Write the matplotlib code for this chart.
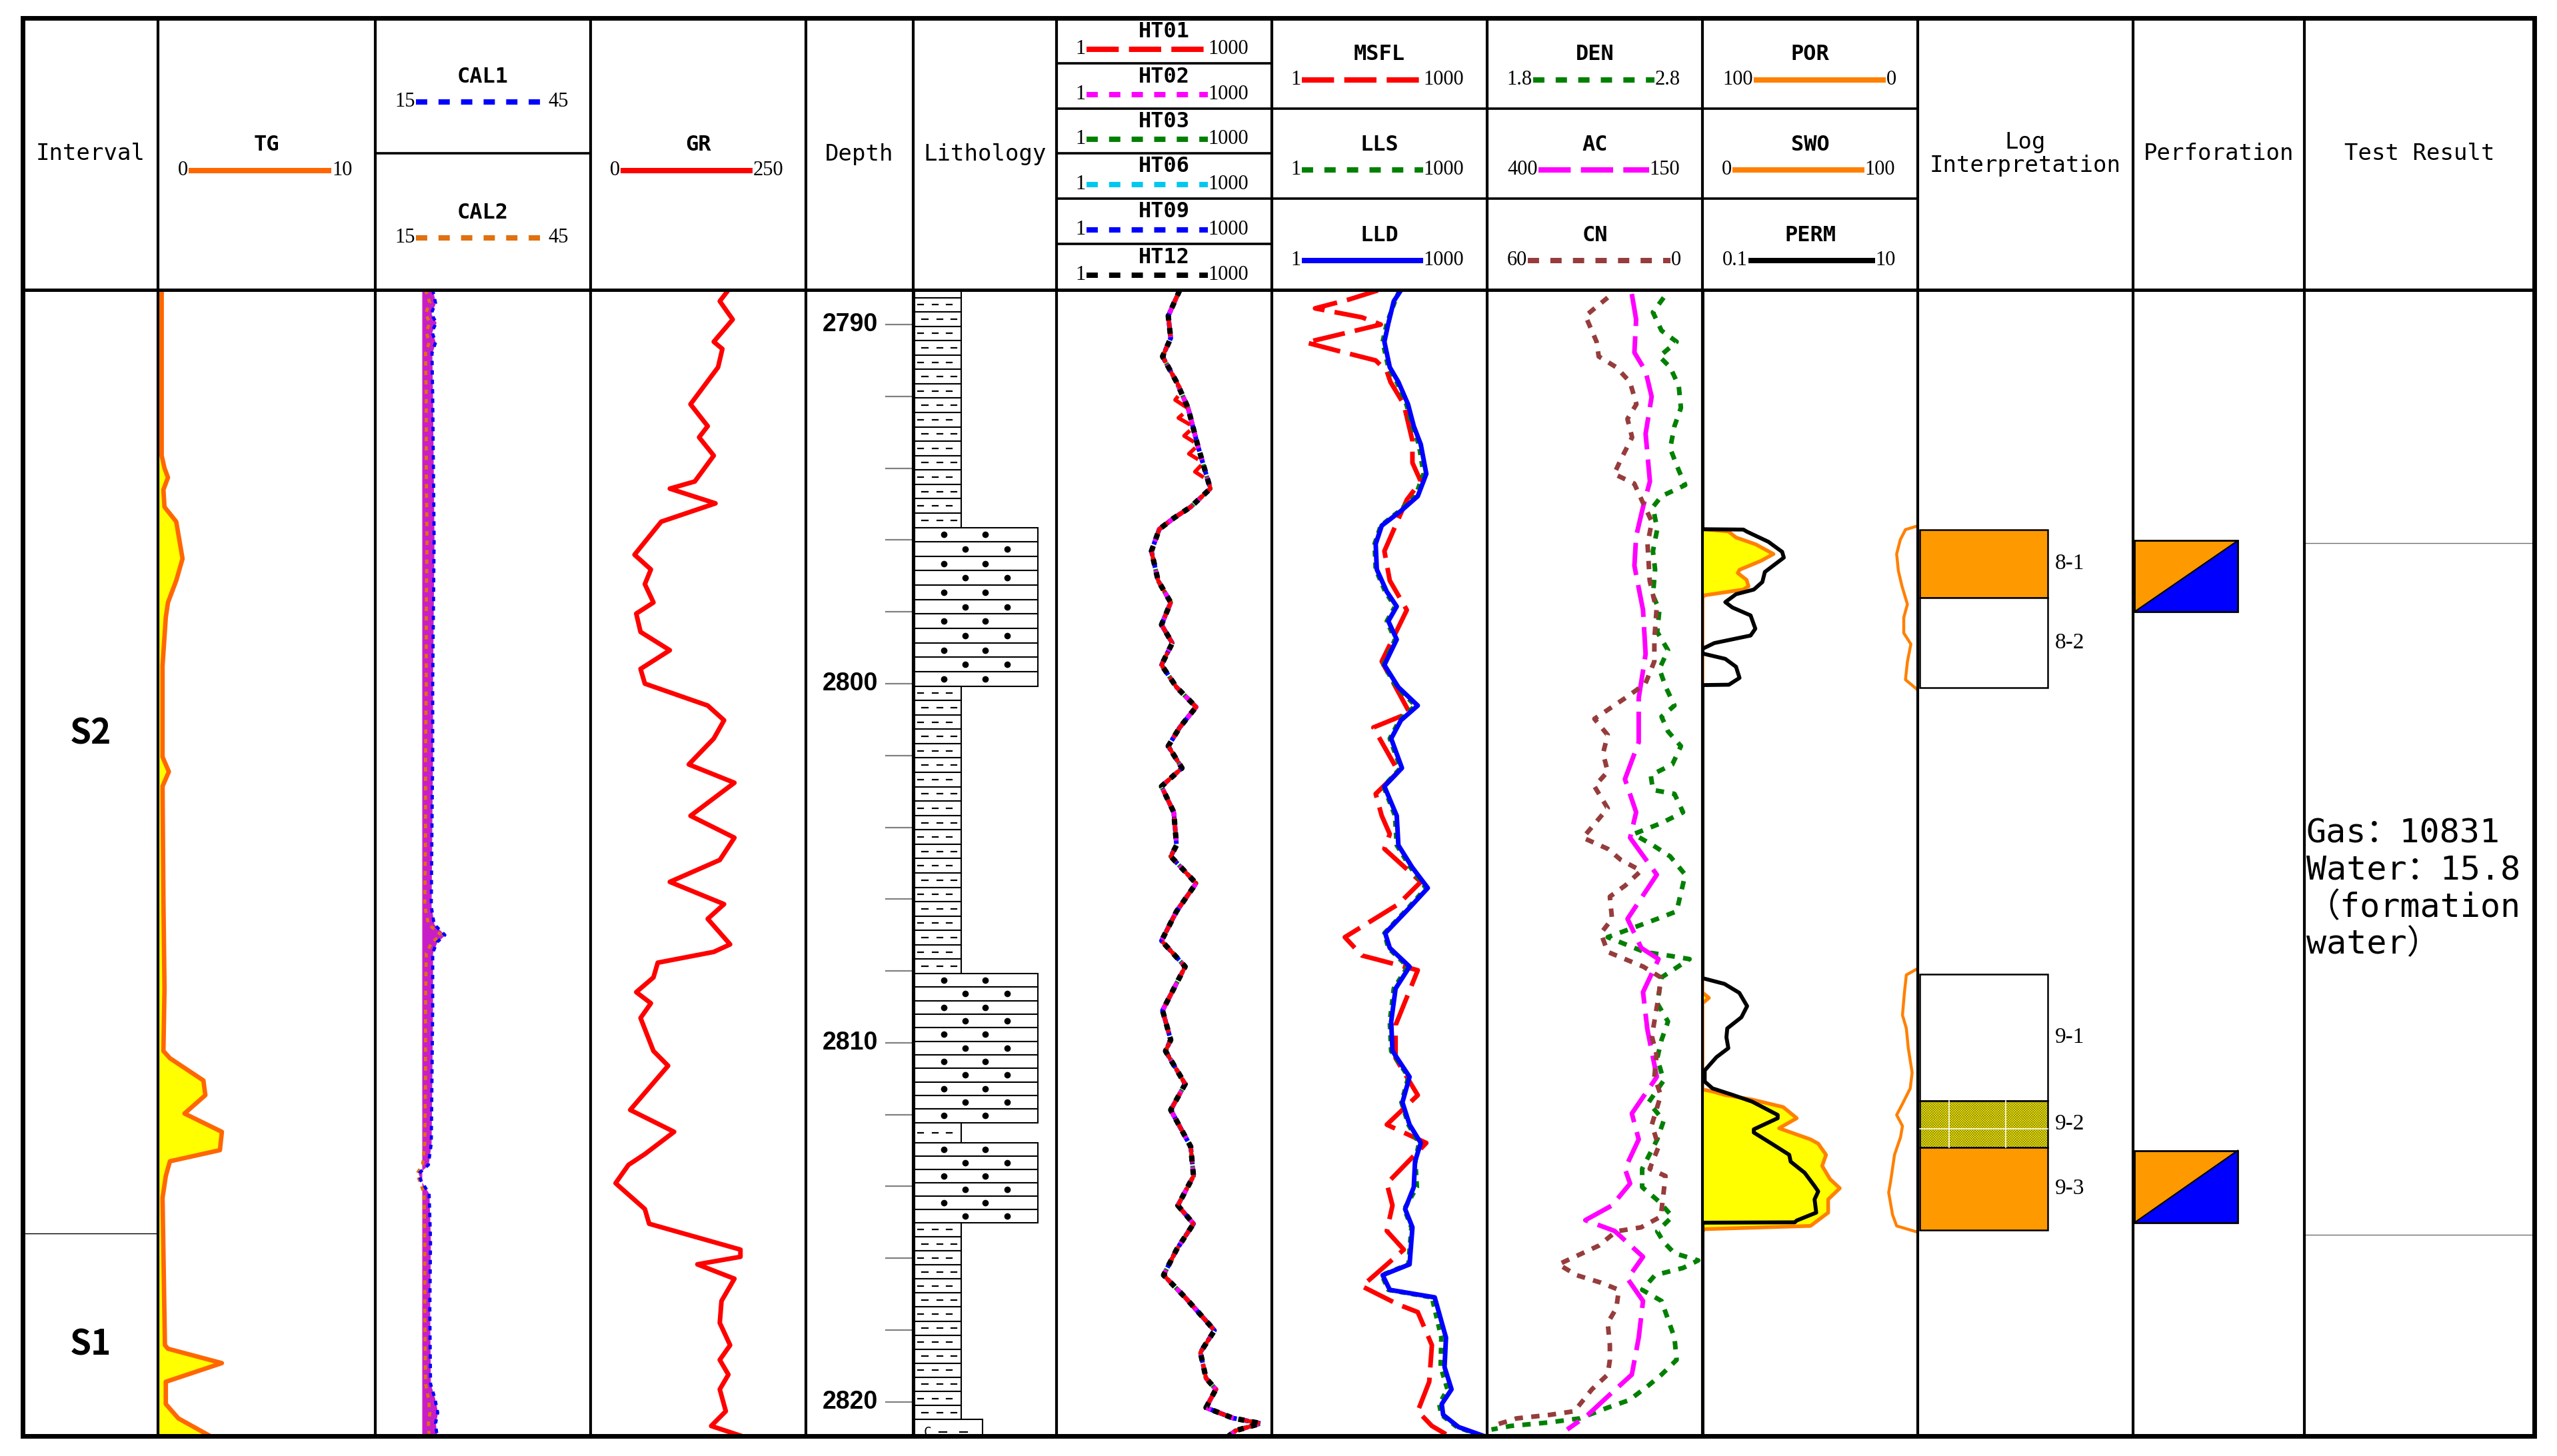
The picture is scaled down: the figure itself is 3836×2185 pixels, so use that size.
import matplotlib
matplotlib.use("Agg")
import matplotlib.pyplot as plt
from matplotlib.patches import Rectangle, Polygon

NAN = float("nan")

# ---------------- data ----------------
DEPTH_TICKS = list(range(2790, 2821, 2))

INTERVAL_NAMES = ["S2", "S1"]
INTERVAL_TOP = [2787.5, 2815.3]
INTERVAL_BOT = [2815.3, 2821.5]

# (depth, value) pairs for every curve
TG_PTS = [(2789.035, 0.17), (2793.65, 0.17), (2794.0, 0.3), (2794.26, 0.46), (2794.6, 0.25),
          (2795.08, 0.3), (2795.49, 0.84), (2796.52, 1.13), (2797.13, 0.84), (2797.74, 0.46),
          (2798.15, 0.36), (2799.5, 0.21), (2802.04, 0.21), (2802.45, 0.5), (2802.86, 0.21),
          (2806.0, 0.25), (2808.5, 0.3), (2810.23, 0.25), (2810.43, 0.55), (2811.05, 2.09),
          (2811.46, 2.18), (2811.97, 1.22), (2812.48, 2.94), (2812.99, 2.85), (2813.30, 0.55),
          (2813.71, 0.36), (2814.32, 0.21), (2818.42, 0.32), (2818.52, 0.46), (2818.92, 2.94),
          (2819.44, 0.36), (2820.06, 0.36), (2820.46, 0.94), (2820.95, 2.4)]

CAL1_PTS = [(2789.035, 23.0), (2789.4, 23.4), (2789.7, 22.8), (2789.95, 23.5), (2790.2, 22.9),
            (2790.5, 23.4), (2790.8, 22.9), (2792.0, 23.0), (2794.0, 23.1), (2796.0, 23.2),
            (2798.0, 23.1), (2800.0, 23.0), (2802.0, 23.0), (2804.0, 22.9), (2806.2, 22.8),
            (2806.7, 23.2), (2807.0, 24.7), (2807.2, 23.6), (2807.5, 23.0), (2809.0, 23.0),
            (2811.0, 22.9), (2812.8, 22.8), (2813.4, 22.4), (2813.65, 21.0), (2813.85, 21.4),
            (2814.2, 22.5), (2815.5, 22.7), (2817.5, 22.6), (2819.5, 22.7), (2819.9, 23.3),
            (2820.3, 23.7), (2820.6, 23.4), (2820.95, 23.6)]
CAL2_PTS = [(2789.035, 22.0), (2789.4, 22.6), (2789.7, 22.0), (2789.95, 22.6), (2790.2, 22.1),
            (2790.5, 22.5), (2790.8, 22.0), (2792.0, 22.1), (2794.0, 22.1), (2796.0, 22.2),
            (2798.0, 22.1), (2800.0, 22.1), (2802.0, 22.0), (2804.0, 22.0), (2806.2, 21.9),
            (2806.7, 22.4), (2807.0, 24.2), (2807.2, 22.9), (2807.5, 22.1), (2809.0, 22.0),
            (2811.0, 22.0), (2812.8, 21.9), (2813.4, 21.6), (2813.65, 20.8), (2813.85, 21.2),
            (2814.2, 21.8), (2815.5, 21.9), (2817.5, 21.9), (2819.5, 22.0), (2819.9, 22.4),
            (2820.3, 22.6), (2820.6, 22.4), (2820.95, 22.5)]
BIT_SIZE = 21.5

GR_PTS = [(2789.04, 160), (2789.35, 150), (2789.86, 165), (2790.48, 143), (2790.68, 153),
          (2791.19, 148), (2792.22, 116), (2792.83, 136), (2793.14, 126), (2793.65, 143),
          (2794.37, 121), (2794.57, 92), (2794.98, 145), (2795.49, 82), (2796.41, 51),
          (2796.82, 70), (2797.23, 63), (2797.74, 73), (2798.05, 53), (2798.56, 58),
          (2799.07, 92), (2799.59, 58), (2800.0, 63), (2800.61, 136), (2801.02, 155),
          (2801.53, 143), (2802.25, 114), (2802.76, 167), (2803.68, 116), (2804.29, 167),
          (2804.91, 150), (2805.52, 92), (2806.14, 155), (2806.55, 136), (2807.26, 162),
          (2807.47, 143), (2807.77, 78), (2808.18, 73), (2808.59, 53), (2808.9, 70),
          (2809.31, 58), (2810.23, 73), (2810.64, 90), (2811.87, 46), (2812.48, 97),
          (2813.1, 63), (2813.4, 44), (2813.91, 29), (2814.63, 63), (2815.04, 68),
          (2815.76, 174), (2815.96, 174), (2816.17, 124), (2816.57, 167), (2817.19, 152),
          (2817.8, 150), (2818.42, 162), (2818.83, 150), (2819.24, 160), (2819.65, 150),
          (2820.26, 157), (2820.67, 140), (2820.98, 179)]

LITH_TOP = [2788.85, 2795.65, 2800.07, 2808.07, 2812.22, 2812.78, 2815.01, 2820.49]
LITH_BOT = [2795.65, 2800.07, 2808.07, 2812.22, 2812.78, 2815.01, 2820.49, 2821.2]
LITH_TYPE = ["shale", "sand", "shale", "sand", "shale", "sand", "shale", "coal"]
LITH_ROWS = [17, 11, 20, 11, 1, 6, 14, 1]

# HT02, HT03, HT06, HT09 and HT12 lie on top of each other in the plot
HT_PTS = [(2789.045, 52), (2789.76, 36), (2790.38, 39), (2790.89, 30), (2791.60, 47),
          (2792.32, 68), (2793.34, 92), (2794.57, 139), (2795.08, 74), (2795.39, 43),
          (2795.70, 27), (2796.31, 21), (2797.13, 26), (2797.74, 39), (2798.36, 29),
          (2798.87, 41), (2799.48, 29), (2800.10, 47), (2800.65, 88), (2801.22, 52),
          (2801.74, 36), (2802.35, 56), (2802.86, 29), (2803.58, 43), (2804.50, 47),
          (2804.81, 39), (2805.56, 88), (2806.34, 47), (2807.16, 29), (2807.88, 62),
          (2809.10, 30), (2809.92, 39), (2810.23, 33), (2811.15, 62), (2811.87, 39),
          (2812.89, 74), (2813.71, 81), (2814.53, 49), (2815.04, 81), (2815.76, 47),
          (2816.47, 31), (2817.09, 62), (2818.01, 159), (2818.62, 101), (2819.34, 121),
          (2819.65, 166), (2820.16, 121), (2820.45, 286), (2820.6, 700), (2820.8, 313),
          (2820.95, 250)]
HT01_PTS = [(2789.045, 52), (2789.76, 36), (2790.38, 39), (2790.89, 30), (2791.60, 47),
            (2791.85, 56), (2792.1, 45), (2792.35, 70), (2792.6, 50), (2792.85, 82),
            (2793.1, 60), (2793.35, 95), (2793.6, 70), (2793.85, 112), (2794.1, 85),
            (2794.35, 132), (2794.57, 139), (2795.08, 74), (2795.39, 43), (2795.70, 27),
            (2796.31, 21), (2797.13, 26), (2797.74, 39), (2798.36, 29), (2798.87, 41),
            (2799.48, 29), (2800.10, 47), (2800.65, 88), (2801.22, 52), (2801.74, 36),
            (2802.35, 56), (2802.86, 29), (2803.58, 43), (2804.50, 47), (2804.81, 39),
            (2805.56, 88), (2806.34, 47), (2807.16, 29), (2807.88, 62), (2809.10, 30),
            (2809.92, 39), (2810.23, 33), (2811.15, 62), (2811.87, 39), (2812.89, 74),
            (2813.71, 81), (2814.53, 49), (2815.04, 81), (2815.76, 47), (2816.47, 31),
            (2817.09, 62), (2818.01, 159), (2818.62, 101), (2819.34, 121), (2819.65, 166),
            (2820.16, 121), (2820.45, 286), (2820.6, 700), (2820.8, 313), (2820.95, 250)]

MSFL_PTS = [(2789.05, 30), (2789.3, 12), (2789.55, 4), (2789.8, 18), (2790.0, 33),
            (2790.25, 10), (2790.5, 3), (2790.75, 9), (2791.0, 28), (2791.3, 40),
            (2791.6, 45), (2792.22, 69), (2793.24, 91), (2793.85, 91), (2794.37, 119),
            (2794.88, 76), (2796.31, 37), (2797.13, 44), (2797.95, 76), (2799.38, 34),
            (2800.81, 83), (2801.22, 26), (2801.63, 34), (2802.45, 58), (2803.07, 28),
            (2803.68, 34), (2804.19, 44), (2804.60, 37), (2805.52, 119), (2806.14, 58),
            (2807.06, 10.4), (2807.57, 18), (2807.67, 28), (2807.98, 108), (2809.51, 53),
            (2810.43, 53), (2811.46, 108), (2812.28, 40), (2812.79, 142), (2813.92, 40),
            (2814.53, 48), (2815.24, 40), (2815.76, 69), (2816.78, 18), (2817.29, 58),
            (2817.50, 108), (2818.42, 170), (2819.44, 156), (2820.26, 108), (2820.67, 170),
            (2820.9, 267)]
LLS_PTS = [(2789.045, 60), (2789.35, 52), (2789.97, 40), (2790.48, 35), (2791.19, 42),
           (2791.60, 55), (2792.22, 75), (2792.83, 90), (2793.34, 112), (2794.16, 130),
           (2794.78, 100), (2795.19, 60), (2795.60, 33), (2796.11, 27), (2796.82, 28),
           (2797.44, 38), (2797.85, 52), (2798.26, 40), (2798.77, 52), (2799.48, 36),
           (2800.10, 55), (2800.61, 100), (2801.02, 60), (2801.53, 44), (2802.35, 62),
           (2802.86, 36), (2803.68, 52), (2804.50, 55), (2805.11, 85), (2805.69, 140),
           (2806.24, 80), (2806.95, 37), (2807.36, 42), (2807.88, 78), (2808.49, 50),
           (2809.41, 44), (2810.23, 46), (2810.95, 80), (2811.66, 64), (2812.28, 80),
           (2812.79, 112), (2813.30, 100), (2814.02, 105), (2814.63, 70), (2815.14, 88),
           (2816.17, 80), (2816.47, 34), (2816.88, 42), (2817.09, 170), (2818.21, 230),
           (2819.03, 225), (2819.65, 280), (2820.06, 215), (2820.36, 230), (2820.7, 380),
           (2820.95, 850)]
LLD_PTS = [(2789.045, 63), (2789.35, 50), (2789.97, 42), (2790.48, 37), (2791.19, 44),
           (2791.60, 58), (2792.22, 79), (2792.83, 95), (2793.34, 119), (2794.16, 142),
           (2794.78, 108), (2795.19, 63), (2795.60, 34), (2796.11, 28), (2796.82, 29),
           (2797.44, 40), (2797.85, 55), (2798.26, 42), (2798.77, 55), (2799.48, 37),
           (2800.10, 58), (2800.61, 108), (2801.02, 63), (2801.53, 46), (2802.35, 65),
           (2802.86, 37), (2803.68, 55), (2804.50, 58), (2805.11, 90), (2805.69, 149),
           (2806.24, 83), (2806.95, 38), (2807.36, 44), (2807.88, 83), (2808.49, 53),
           (2809.41, 46), (2810.23, 48), (2810.95, 83), (2811.66, 66), (2812.28, 83),
           (2812.79, 119), (2813.30, 99), (2814.02, 95), (2814.63, 72), (2815.14, 91),
           (2816.17, 83), (2816.47, 35), (2816.88, 44), (2817.09, 186), (2818.21, 267),
           (2819.03, 255), (2819.65, 319), (2820.06, 233), (2820.36, 244), (2820.7, 400),
           (2820.95, 900)]

DEN_PTS = [(2789.25, 2.62), (2789.66, 2.57), (2790.17, 2.61), (2790.48, 2.68), (2790.89, 2.60),
           (2791.19, 2.65), (2791.71, 2.69), (2792.32, 2.70), (2792.83, 2.67), (2793.45, 2.65),
           (2794.06, 2.69), (2794.47, 2.72), (2794.78, 2.61), (2795.08, 2.57), (2795.70, 2.59),
           (2796.31, 2.57), (2796.82, 2.58), (2797.54, 2.57), (2797.95, 2.60), (2798.56, 2.59),
           (2799.07, 2.64), (2799.59, 2.60), (2800.10, 2.63), (2800.61, 2.67), (2800.92, 2.61),
           (2801.33, 2.64), (2801.74, 2.70), (2802.25, 2.66), (2802.55, 2.56), (2802.96, 2.57),
           (2803.07, 2.67), (2803.58, 2.71), (2803.88, 2.61), (2804.19, 2.48), (2804.50, 2.57),
           (2804.81, 2.65), (2805.32, 2.72), (2805.83, 2.70), (2806.34, 2.68), (2806.55, 2.59),
           (2807.06, 2.36), (2807.47, 2.53), (2807.57, 2.64), (2807.67, 2.74), (2808.18, 2.61),
           (2808.90, 2.59), (2809.41, 2.64), (2809.92, 2.61), (2810.43, 2.59), (2811.05, 2.62),
           (2811.66, 2.55), (2812.17, 2.62), (2812.69, 2.59), (2813.51, 2.52), (2814.02, 2.52),
           (2814.43, 2.60), (2814.84, 2.66), (2815.25, 2.59), (2815.55, 2.62), (2815.86, 2.67),
           (2816.06, 2.78), (2816.27, 2.71), (2816.47, 2.58), (2816.88, 2.52), (2817.19, 2.61),
           (2817.70, 2.64), (2818.21, 2.67), (2818.83, 2.68), (2819.24, 2.61), (2819.54, 2.55),
           (2819.95, 2.46), (2820.16, 2.36), (2820.46, 2.23), (2820.57, 2.09), (2820.67, 1.91),
           (2820.77, 1.82)]
AC_PTS = [(2789.15, 232), (2789.86, 227), (2790.78, 229), (2791.30, 216), (2792.01, 209),
          (2793.04, 216), (2794.37, 211), (2795.08, 219), (2795.90, 227), (2796.72, 229),
          (2797.95, 219), (2799.18, 216), (2800.40, 224), (2801.63, 224), (2802.66, 240),
          (2803.58, 227), (2804.29, 234), (2805.32, 203), (2806.55, 237), (2807.36, 221),
          (2807.67, 201), (2808.59, 219), (2809.62, 214), (2810.95, 203), (2811.97, 232),
          (2812.69, 224), (2813.51, 240), (2813.92, 234), (2814.53, 255), (2814.94, 286),
          (2815.24, 252), (2815.96, 219), (2816.57, 237), (2817.19, 219), (2818.21, 224),
          (2819.24, 232), (2819.85, 260), (2820.36, 283), (2820.77, 307)]
CN_PTS = [(2789.25, 26.4), (2789.76, 32.6), (2790.48, 29.5), (2790.89, 28.9), (2791.19, 24.0),
          (2791.60, 20.2), (2792.22, 18.4), (2792.63, 20.9), (2793.14, 19.6), (2793.75, 22.7),
          (2794.16, 24.6), (2794.43, 19.0), (2794.98, 16.5), (2795.49, 14.1), (2796.11, 15.3),
          (2797.13, 14.7), (2797.95, 12.8), (2798.77, 13.4), (2799.38, 13.4), (2800.00, 15.9),
          (2800.40, 21.5), (2800.98, 30.1), (2801.43, 26.4), (2801.94, 27.7), (2802.45, 26.4),
          (2802.86, 30.1), (2803.47, 26.4), (2804.29, 33.3), (2804.60, 26.4), (2804.91, 22.7),
          (2805.21, 17.1), (2805.62, 21.5), (2805.93, 25.8), (2806.55, 25.2), (2806.95, 28.3),
          (2807.47, 26.4), (2807.88, 16.5), (2808.18, 11.6), (2808.70, 12.2), (2809.41, 13.4),
          (2809.82, 14.1), (2810.33, 12.8), (2810.95, 13.4), (2811.46, 11.6), (2812.28, 14.1),
          (2812.89, 12.2), (2813.51, 14.7), (2813.71, 10.3), (2814.84, 11.6), (2815.14, 17.1),
          (2815.25, 24.0), (2815.65, 28.9), (2816.17, 40.1), (2816.47, 35.1), (2816.68, 28.3),
          (2816.88, 23.3), (2817.39, 24.0), (2817.80, 26.4), (2818.42, 25.8), (2818.83, 25.8),
          (2819.24, 26.4), (2819.65, 30.8), (2820.26, 35.7), (2820.36, 42.5), (2820.46, 51.8),
          (2820.67, 58.6)]

POR_PTS = [(2789.035, 100), (2795.70, 100), (2795.76, 88), (2795.93, 84.4), (2796.12, 75.3),
           (2796.39, 67.0), (2796.58, 72.8), (2796.83, 82.8), (2796.92, 83.6), (2797.11, 79.5),
           (2797.29, 78.6), (2797.38, 81.1), (2797.54, 99), (2797.6, 100), (2808.6, 100),
           (2808.75, 97), (2808.9, 100), (2811.30, 100), (2811.36, 95), (2811.45, 89.8),
           (2811.58, 77.1), (2811.79, 62.5), (2812.10, 56.2), (2812.38, 64.4), (2812.69, 49.8),
           (2812.81, 46.2), (2813.12, 42.6), (2813.43, 44.4), (2813.80, 40.7), (2814.05, 36.2),
           (2814.36, 41.6), (2814.73, 41.6), (2815.10, 49.8), (2815.19, 99), (2815.25, 100),
           (2820.95, 100)]
SWO_PTS = [(2795.62, 99.3), (2795.71, 94.3), (2795.99, 91.9), (2796.39, 90.2), (2796.86, 91.0),
           (2797.29, 92.7), (2797.79, 95.2), (2798.16, 93.5), (2798.59, 93.5), (2798.90, 96.8),
           (2799.39, 95.2), (2799.89, 94.3), (2800.14, 99.3), (NAN, NAN),
           (2807.96, 99.2), (2808.11, 94.7), (2808.61, 93.8), (2809.23, 92.9), (2809.60, 94.7),
           (2810.15, 95.6), (2810.83, 97.4), (2811.27, 96.5), (2811.70, 92.9), (2812.01, 90.2),
           (2812.32, 92.9), (2812.63, 92.0), (2813.12, 89.2), (2813.86, 87.4), (2814.17, 86.5),
           (2814.79, 88.3), (2815.10, 90.2), (2815.26, 99.2)]
PERM_PTS = [(2789.035, 0.1), (2795.70, 0.1), (2795.71, 0.24), (2795.77, 0.26), (2796.05, 0.41),
            (2796.33, 0.55), (2796.49, 0.57), (2796.89, 0.38), (2797.17, 0.36), (2797.38, 0.30),
            (2797.51, 0.205), (2797.73, 0.163), (2797.88, 0.19), (2798.10, 0.28), (2798.47, 0.31),
            (2798.66, 0.28), (2798.87, 0.129), (2799.03, 0.1), (2799.16, 0.1), (2799.31, 0.163),
            (2799.53, 0.205), (2799.84, 0.221), (2800.03, 0.176), (2800.04, 0.1), (2808.20, 0.1),
            (2808.36, 0.16), (2808.61, 0.22), (2808.98, 0.26), (2809.29, 0.23), (2809.60, 0.17),
            (2809.85, 0.167), (2810.15, 0.174), (2810.40, 0.135), (2810.77, 0.105), (2811.08, 0.105),
            (2811.27, 0.124), (2811.45, 0.19), (2811.64, 0.29), (2812.01, 0.50), (2812.10, 0.50),
            (2812.41, 0.30), (2812.50, 0.30), (2812.81, 0.44), (2813.12, 0.64), (2813.31, 0.66),
            (2813.62, 0.89), (2813.99, 1.10), (2814.14, 1.19), (2814.36, 1.10), (2814.73, 1.14),
            (2814.95, 0.75), (2815.00, 0.72), (2815.01, 0.1), (2820.95, 0.1)]

INTERP_NAME = ["8-1", "8-2", "9-1", "9-2", "9-3"]
INTERP_TOP = [2795.71, 2797.61, 2808.10, 2811.61, 2812.91]
INTERP_BOT = [2797.61, 2800.11, 2811.61, 2812.91, 2815.21]
INTERP_CLASS = ["gas", "dry", "dry", "poor", "gas"]

PERF_TOP = [2796.02, 2813.00]
PERF_BOT = [2798.00, 2815.01]

TEST_TOP, TEST_BOT = 2796.09, 2815.34
TEST_TEXT = "Gas：10831\nWater：15.8\n（formation\nwater）"

# ---------------- layout ----------------
W, H = 3836, 2185
TOP_D, BOT_D = 2789.035, 2820.95
Y_TOP, Y_HEAD, Y_BOT = 27, 435, 2155
COLS = {"interval": (34, 237), "tg": (237, 563), "cal": (563, 886), "gr": (886, 1209),
        "depth": (1209, 1370), "lith": (1370, 1585), "ht": (1585, 1908), "res": (1908, 2231),
        "poro": (2231, 2554), "por": (2554, 2877), "interp": (2877, 3200),
        "perf": (3200, 3457), "test": (3457, 3802)}

MONO = ["DejaVu Sans Mono", "Noto Sans CJK SC"]
SERIF = "Liberation Serif"
SANS = "Liberation Sans"
plt.rcParams["hatch.linewidth"] = 0.6

LW = 5.0
DOT = (0, (1.3, 1.3))
DASH = (0, (7, 2.2))

fig = plt.figure(figsize=(W / 100, H / 100), dpi=100)


def unzip(pts):
    return [p[0] for p in pts], [p[1] for p in pts]


def track(key, xlim, log=False):
    x0, x1 = COLS[key]
    ax = fig.add_axes([x0 / W, 1 - Y_BOT / H, (x1 - x0) / W, (Y_BOT - Y_HEAD) / H])
    if log:
        ax.set_xscale("log")
    ax.set_xlim(*xlim)
    ax.set_ylim(BOT_D, TOP_D)
    ax.axis("off")
    return ax


# interval
ax = track("interval", (0, 1))
for name, t, b in zip(INTERVAL_NAMES, INTERVAL_TOP, INTERVAL_BOT):
    ax.plot([0, 1], [b, b], color="black", lw=1.0)
    ax.text(0.5, (t + b) / 2, name, ha="center", va="center", fontsize=37,
            fontweight="bold", family="Noto Sans CJK SC")

# TG
ax = track("tg", (0, 10))
d, v = unzip(TG_PTS)
ax.fill_betweenx(d, 0, v, color="#FFFF00", lw=0)
ax.plot(v, d, color="#FF6600", lw=4.8)

# calipers
ax = track("cal", (15, 45))
d, v = unzip(CAL1_PTS)
ax.fill_betweenx(d, BIT_SIZE, v, color="#C81EC8", lw=0)
d2, v2 = unzip(CAL2_PTS)
ax.plot(v2, d2, color="#E07010", lw=3.4, linestyle=(0, (1.4, 1.6)))
ax.plot(v, d, color="#0000FF", lw=3.4, linestyle=(0, (1.4, 1.6)))

# GR
ax = track("gr", (0, 250))
d, v = unzip(GR_PTS)
ax.plot(v, d, color="#FF0000", lw=LW)

# depth
ax = track("depth", (0, 161))
for dep in DEPTH_TICKS:
    ax.plot([120, 159], [dep, dep], color="#808080", lw=1.6)
    if dep % 10 == 0:
        ax.text(108, dep, str(dep), ha="right", va="center", fontsize=27,
                fontweight="bold", family=SANS)

# lithology
ax = track("lith", (0, 215))
LITH_W = {"shale": 70, "sand": 185, "coal": 102}
for k, (t, b, kind, n) in enumerate(zip(LITH_TOP, LITH_BOT, LITH_TYPE, LITH_ROWS)):
    h = (b - t) / n
    w = LITH_W[kind]
    for i in range(n):
        y0 = t + i * h
        yc = y0 + h / 2
        ax.add_patch(Rectangle((1.7, y0), w, h, facecolor="white", edgecolor="black", lw=1.5))
        alt = (i + (1 if k == 0 else 0)) % 2
        if kind == "shale":
            offs = [15.8, 38.3, 59.3] if alt else [9.3, 31.3, 52.3]
            for o in offs:
                ax.plot([1.7 + o - 4.2, 1.7 + o + 4.2], [yc, yc], color="black", lw=1.6)
        elif kind == "sand":
            offs = [76.6, 139.0] if alt else [44.3, 106.6]
            ax.plot([1.7 + o for o in offs], [yc, yc], "o", color="black", ms=7, mew=0)
        else:
            ax.text(21.5, yc, "C", ha="center", va="center", fontsize=14, family=MONO)
            for o in (42.8, 73.8):
                ax.plot([1.7 + o - 5.5, 1.7 + o + 5.5], [yc, yc], color="black", lw=1.6)

# HT array resistivities
ax = track("ht", (1, 1000), log=True)
d, v = unzip(HT_PTS)
ax.plot(v, d, color="#00C8F0", lw=LW, linestyle=(0.6, (1.3, 1.3)))
ax.plot(v, d, color="#008000", lw=LW, linestyle=(1.3, (1.3, 1.3)))
ax.plot(v, d, color="#0000FF", lw=LW, linestyle=(0.3, (1.3, 1.3)))
ax.plot(v, d, color="#FF00FF", lw=LW, linestyle=(1.0, (1.3, 1.3)))
d1, v1 = unzip(HT01_PTS)
ax.plot(v1, d1, color="#FF0000", lw=4.2, linestyle=(0, (5, 2.5)))
ax.plot(v, d, color="black", lw=5.8, linestyle=(0, (1.1, 1.4)))

# laterolog
ax = track("res", (1, 1000), log=True)
d, v = unzip(MSFL_PTS)
ax.plot(v, d, color="#FF0000", lw=LW, linestyle=DASH)
d, v = unzip(LLS_PTS)
ax.plot(v, d, color="#008000", lw=LW, linestyle=DOT)
d, v = unzip(LLD_PTS)
ax.plot(v, d, color="#0000FF", lw=LW)

# porosity logs
ax = track("poro", (1.8, 2.8))
d, v = unzip(DEN_PTS)
ax.plot(v, d, color="#008000", lw=LW, linestyle=(0, (1.8, 1.8)))
ax = track("poro", (400, 150))
d, v = unzip(AC_PTS)
ax.plot(v, d, color="#FF00FF", lw=LW, linestyle=DASH)
ax = track("poro", (60, 0))
d, v = unzip(CN_PTS)
ax.plot(v, d, color="#963C3C", lw=LW, linestyle=(0, (1.8, 1.8)))

# POR / SWO / PERM
ax = track("por", (100, 0))
d, v = unzip(POR_PTS)
ax.fill_betweenx(d, 100, v, color="#FFFF00", lw=0)
ax.plot(v, d, color="#FF8000", lw=4.0)
ax = track("por", (0.1, 10), log=True)
d, v = unzip(PERM_PTS)
ax.plot(v, d, color="black", lw=4.2)
ax = track("por", (0, 100))
d, v = unzip(SWO_PTS)
ax.plot(v, d, color="#FF8000", lw=3.2)

# log interpretation
ax = track("interp", (0, 323))
for name, t, b, cls in zip(INTERP_NAME, INTERP_TOP, INTERP_BOT, INTERP_CLASS):
    if cls == "poor":
        ax.add_patch(Rectangle((3, t), 192, b - t, facecolor="#FFF200", edgecolor="#8C8A10",
                               hatch="x" * 9, lw=0))
        for xx in (47, 132):
            ax.plot([xx, xx], [t, b], color="white", lw=1.2)
        ax.plot([3, 195], [t + 0.6 * (b - t)] * 2, color="white", lw=1.2)
        ax.add_patch(Rectangle((3, t), 192, b - t, fill=False, edgecolor="black", lw=1.8))
    else:
        fc = "#FF9900" if cls == "gas" else "white"
        ax.add_patch(Rectangle((3, t), 192, b - t, facecolor=fc, edgecolor="black", lw=1.8))
    ax.text(206, (t + b) / 2, name, ha="left", va="center", fontsize=24, family=SERIF)

# perforation
ax = track("perf", (0, 257))
for t, b in zip(PERF_TOP, PERF_BOT):
    ax.add_patch(Polygon([(2, t), (157, t), (2, b)], closed=True, facecolor="#FF9900", lw=0))
    ax.add_patch(Polygon([(157, t), (157, b), (2, b)], closed=True, facecolor="#0000FF", lw=0))
    ax.plot([2, 157], [b, t], color="black", lw=1.5)
    ax.add_patch(Rectangle((2, t), 155, b - t, fill=False, edgecolor="black", lw=2.0))

# test result
ax = track("test", (0, 345))
for dep in (TEST_TOP, TEST_BOT):
    ax.plot([0, 345], [dep, dep], color="#707070", lw=1.0)
ax.text(3, (TEST_TOP + TEST_BOT) / 2, TEST_TEXT, ha="left", va="center", fontsize=36,
        family=MONO, linespacing=1.2)

# ---------------- header and grid ----------------
fr = fig.add_axes([0, 0, 1, 1])
fr.set_xlim(0, W)
fr.set_ylim(H, 0)
fr.axis("off")


def tw(s):
    return sum(8 if c == "." else 16 for c in s)


def legend(key, y0, y1, name, lo, hi, color, ls):
    x0, x1 = COLS[key]
    xc, yc = (x0 + x1) / 2, (y0 + y1) / 2
    dn, dl = (-13.5, 24.5) if y1 - y0 > 100 else (-14, 12.5)
    length = 262 - tw(lo) - tw(hi)
    xs = xc - 135 + tw(lo) + 2
    fr.plot([xs, xs + length], [yc + dl] * 2, color=color, lw=5.8, linestyle=ls,
            solid_capstyle="butt")
    fr.text(xc, yc + dn, name, ha="center", va="center", fontsize=23, fontweight="bold",
            family=MONO)
    fr.text(xs - 1, yc + dl, lo, ha="right", va="center", fontsize=22, family=SERIF)
    fr.text(xs + length + 1, yc + dl, hi, ha="left", va="center", fontsize=22, family=SERIF)


HDOT = (0, (2.1, 2.1))
HDASH = (0, (6, 1.9))
legend("tg", Y_TOP, Y_HEAD, "TG", "0", "10", "#FF6600", "-")
legend("cal", Y_TOP, 230, "CAL1", "15", "45", "#0000FF", HDOT)
legend("cal", 230, Y_HEAD, "CAL2", "15", "45", "#E07010", HDOT)
legend("gr", Y_TOP, Y_HEAD, "GR", "0", "250", "#FF0000", "-")

ht_rows = [27, 95, 163, 230, 298, 366, 435]
ht_items = [("HT01", "#FF0000", HDASH), ("HT02", "#FF00FF", HDOT), ("HT03", "#008000", HDOT),
            ("HT06", "#00C8F0", HDOT), ("HT09", "#0000FF", HDOT), ("HT12", "black", HDOT)]
for i, (nm, c, ls) in enumerate(ht_items):
    legend("ht", ht_rows[i], ht_rows[i + 1], nm, "1", "1000", c, ls)

rows3 = [27, 163, 298, 435]
legend("res", rows3[0], rows3[1], "MSFL", "1", "1000", "#FF0000", HDASH)
legend("res", rows3[1], rows3[2], "LLS", "1", "1000", "#008000", HDOT)
legend("res", rows3[2], rows3[3], "LLD", "1", "1000", "#0000FF", "-")
legend("poro", rows3[0], rows3[1], "DEN", "1.8", "2.8", "#008000", HDOT)
legend("poro", rows3[1], rows3[2], "AC", "400", "150", "#FF00FF", HDASH)
legend("poro", rows3[2], rows3[3], "CN", "60", "0", "#963C3C", HDOT)
legend("por", rows3[0], rows3[1], "POR", "100", "0", "#FF8000", "-")
legend("por", rows3[1], rows3[2], "SWO", "0", "100", "#FF8000", "-")
legend("por", rows3[2], rows3[3], "PERM", "0.1", "10", "black", "-")

yc = (Y_TOP + Y_HEAD) / 2
for key, title in [("interval", "Interval"), ("depth", "Depth"), ("lith", "Lithology"),
                   ("interp", "Log\nInterpretation"), ("perf", "Perforation"),
                   ("test", "Test Result")]:
    x0, x1 = COLS[key]
    fr.text((x0 + x1) / 2, yc, title, ha="center", va="center", fontsize=24.5, family=MONO,
            linespacing=1.1)

# grid lines
for x in [237, 563, 886, 1209, 1370, 1585, 1908, 2231, 2554, 2877, 3200, 3457]:
    fr.plot([x, x], [Y_TOP, Y_BOT], color="black", lw=3.0)
fr.plot([34, 3802], [Y_HEAD, Y_HEAD], color="black", lw=3.6)
fr.plot([563, 886], [230, 230], color="black", lw=2.6)
for y in ht_rows[1:-1]:
    fr.plot([1585, 1908], [y, y], color="black", lw=2.6)
for y in rows3[1:-1]:
    fr.plot([1908, 2877], [y, y], color="black", lw=2.6)
fr.add_patch(Rectangle((34, Y_TOP), 3802 - 34, Y_BOT - Y_TOP, fill=False, edgecolor="black",
                       lw=5.0))

fig.savefig("out.png", dpi=100, facecolor="white")
